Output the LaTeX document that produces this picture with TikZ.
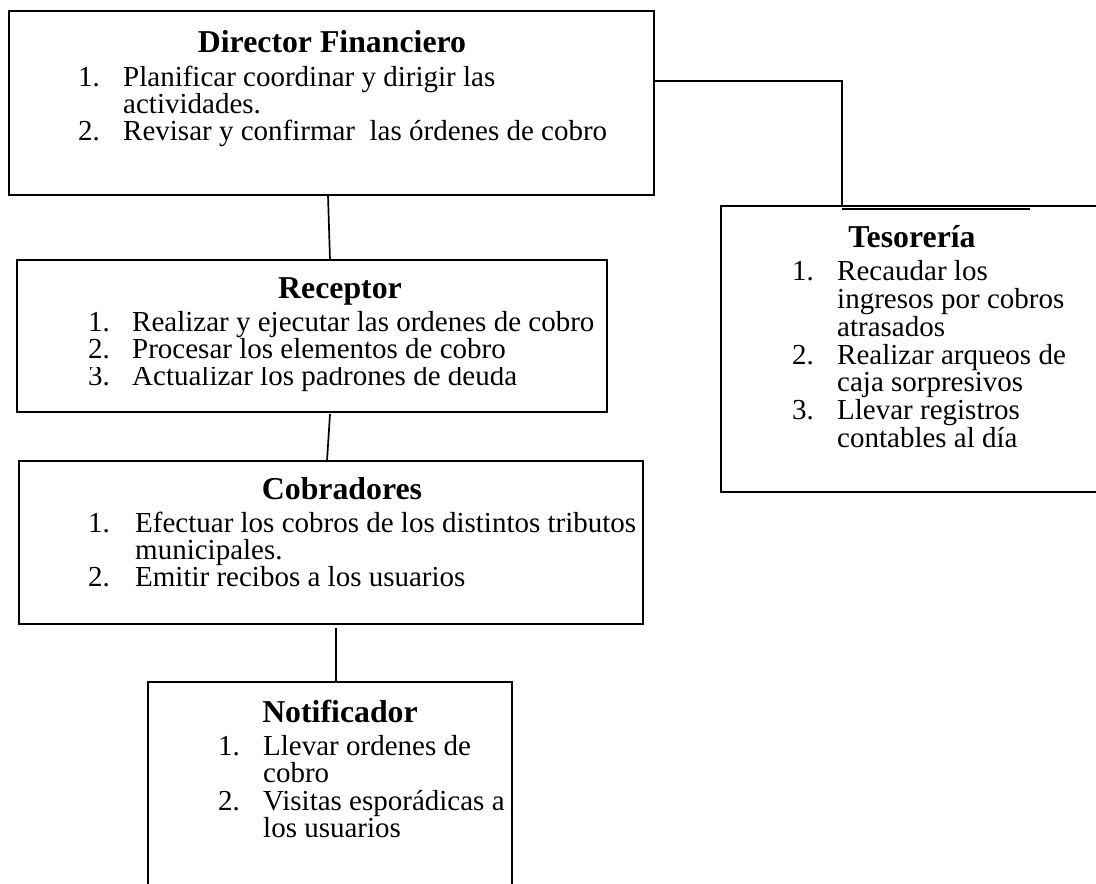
\documentclass[tikz,border=0pt]{standalone}
\usepackage{fontspec}
\setmainfont{Liberation Serif}
\begin{document}
\begin{tikzpicture}[x=1pt,y=-1pt,
  box/.style={draw,line width=1.7pt,rectangle,inner sep=0pt,outer sep=0pt},
  conn/.style={line width=1.7pt},
  ttl/.style={anchor=base,inner sep=0pt,font=\fontsize{31.8}{30}\selectfont\bfseries},
  itm/.style={anchor=base west,inner sep=0pt,font=\fontsize{29}{27}\selectfont}]
\useasboundingbox (0,0) rectangle (1096,884);
% boxes
\node[box,minimum width=645pt,minimum height=184pt] (dir) at (331.5,103) {};
\node[box,minimum width=590pt,minimum height=152pt] (rec) at (312,336) {};
\node[box,minimum width=624pt,minimum height=163pt] (cob) at (331,542.5) {};
\node[box,minimum width=364pt,minimum height=220pt] (not) at (330,792) {};
\node[box,minimum width=390pt,minimum height=286pt] (tes) at (916,349) {};
% Director
\node[ttl] (dirt) at (332,52) {Director Financiero};
\node[itm] (dir1n) at (78,86) {1.};
\node[itm] (dir1) at (123,86) {Planificar coordinar y dirigir las};
\node[itm] (dir1b) at (123,113) {actividades.};
\node[itm] (dir2n) at (78,140) {2.};
\node[itm] (dir2) at (123,140) {Revisar y confirmar\ \ las órdenes de cobro};
% Receptor
\node[ttl] (rect) at (340,298) {Receptor};
\node[itm] (rec1n) at (88,331) {1.};
\node[itm] (rec1) at (132,331) {Realizar y ejecutar las ordenes de cobro};
\node[itm] (rec2n) at (88,358) {2.};
\node[itm] (rec2) at (132,358) {Procesar los elementos de cobro};
\begin{scope}
\clip (0,367) rectangle (700,403);
\node[itm] (rec3n) at (88,385) {3.};
\node[itm] (rec3) at (132,385) {Actualizar los padrones de deuda};
\end{scope}
% Cobradores
\node[ttl] (cobt) at (342,499) {Cobradores};
\node[itm] (cob1n) at (88,532) {1.};
\node[itm] (cob1) at (135,532) {Efectuar los cobros de los distintos tributos};
\node[itm] (cob1b) at (135,559) {municipales.};
\node[itm] (cob2n) at (88,586) {2.};
\node[itm] (cob2) at (135,586) {Emitir recibos a los usuarios};
% Notificador
\node[ttl] (nott) at (340,722) {Notificador};
\node[itm] (not1n) at (218,755) {1.};
\node[itm] (not1) at (263,755) {Llevar ordenes de};
\node[itm] (not1b) at (263,782) {cobro};
\node[itm] (not2n) at (218,810) {2.};
\node[itm] (not2) at (263,810) {Visitas esporádicas a};
\node[itm] (not2b) at (263,837) {los usuarios};
% Tesoreria
\node[ttl] (test) at (912,247) {Tesorería};
\node[itm] (tes1n) at (792,280) {1.};
\node[itm] (tes1) at (837,280) {Recaudar los};
\node[itm] (tes1b) at (837,308) {ingresos por cobros};
\node[itm] (tes1c) at (837,336) {atrasados};
\node[itm] (tes2n) at (792,364) {2.};
\node[itm] (tes2) at (837,364) {Realizar arqueos de};
\node[itm] (tes2b) at (837,391) {caja sorpresivos};
\node[itm] (tes3n) at (792,419) {3.};
\node[itm] (tes3) at (837,419) {Llevar registros};
\node[itm] (tes3b) at (837,447) {contables al día};
% connectors
\draw[conn] ([xshift=319pt]dir.south west) -- ([xshift=313pt]rec.north west);
\draw[conn] ([xshift=313pt,yshift=-2pt]rec.south west) -- ([xshift=308pt]cob.north west);
\draw[conn] ([xshift=317pt,yshift=-4pt]cob.south west) -- (not.north -| 336,0);
\draw[conn] (dir.north east |- 0,81) -- (842,81) coordinate (tk) -- (tk |- tes.north);
\coordinate (tx) at (1030,209);
\draw[conn] (tk |- tx) -- (tx);
\end{tikzpicture}
\end{document}
